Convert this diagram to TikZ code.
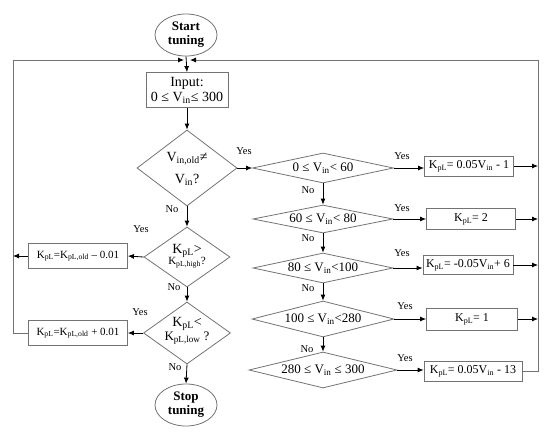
\documentclass[tikz,border=0pt]{standalone}
\usepackage{fontspec}
\setmainfont{Liberation Serif}
\usetikzlibrary{shapes.geometric,arrows.meta}
\newcommand\sbs[1]{\textsubscript{#1}}
\begin{document}
\begin{tikzpicture}[x=1pt,y=-1pt,
  shp/.style={draw=black!55, line width=0.8pt},
  dia/.style={shp, diamond, inner sep=0pt},
  box/.style={shp, rectangle, inner sep=1pt, align=center},
  ell/.style={shp, ellipse, inner sep=0pt, align=center, minimum width=62pt, minimum height=42pt, font=\fontsize{13}{14}\selectfont\bfseries},
  arr/.style={draw=black, line width=0.8pt, -{Latex[length=6pt,width=5pt]}},
  loopl/.style={draw=black!55, line width=0.9pt, -{Latex[length=6pt,width=5pt,color=black]}},
  lbl/.style={font=\fontsize{10.5}{12}\selectfont, inner sep=0pt},
  txt/.style={inner sep=0pt, align=center},
  big/.style={font=\fontsize{14}{15}\selectfont},
  mid/.style={font=\fontsize{13}{14}\selectfont},
  sml/.style={font=\fontsize{12}{13}\selectfont},
]
\useasboundingbox (0,0) rectangle (550,432);
% left column
\node[ell] (start) at (186,35) {Start\\tuning};
\node[box, big, minimum width=82pt, minimum height=35pt] (input) at (187,90) {Input:\\0 ≤ V\sbs{in}≤ 300};
\node[dia, minimum width=100pt, minimum height=76pt] (d1) at (187,168) {};
\node[txt, big] (t1) at (187,169) {V\sbs{in,old}≠\\[7pt]V\sbs{in}?};
\node[dia, minimum width=86pt, minimum height=60pt] (d3) at (187,257) {};
\node[txt] (t3) at (187,256) {{\fontsize{14}{14}\selectfont K\sbs{pL}>}\\[-1pt]{\fontsize{11}{12}\selectfont K\sbs{pL,high}?}};
\node[dia, minimum width=87pt, minimum height=62pt] (d4) at (187,333) {};
\node[txt] (t4) at (187,331) {{\fontsize{14}{14}\selectfont K\sbs{pL}<}\\[0pt]{\fontsize{13}{13}\selectfont K\sbs{pL,low} ?}};
\node[ell] (stop) at (186,405) {Stop\\tuning};
\node[box, font=\fontsize{11}{12}\selectfont, minimum width=99pt, minimum height=25pt] (bm) at (78,256) {K\sbs{pL}=K\sbs{pL,old} – 0.01};
\node[box, font=\fontsize{11}{12}\selectfont, minimum width=99pt, minimum height=25pt] (bp) at (78,333) {K\sbs{pL}=K\sbs{pL,old} + 0.01};
% right column diamonds
\node[dia, minimum width=141pt, minimum height=30pt] (d5) at (323,168) {};
\node[txt, mid] (t5) at (323,168) {0 ≤ V\sbs{in}< 60};
\node[dia, minimum width=140pt, minimum height=28pt] (d6) at (323,219) {};
\node[txt, mid] (t6) at (323,219) {60 ≤ V\sbs{in}< 80};
\node[dia, minimum width=140pt, minimum height=30pt] (d7) at (323,268) {};
\node[txt, mid] (t7) at (323,268) {80 ≤ V\sbs{in}<100};
\node[dia, minimum width=142pt, minimum height=36pt] (d8) at (323,319) {};
\node[txt, mid] (t8) at (323,319) {100 ≤ V\sbs{in}<280};
\node[dia, minimum width=148pt, minimum height=36pt] (d9) at (323,370) {};
\node[txt, mid] (t9) at (323,370) {280 ≤ V\sbs{in} ≤ 300};
% right boxes
\node[box, sml, minimum width=89pt, minimum height=20pt] (b1) at (469,166) {K\sbs{pL}= 0.05V\sbs{in} - 1};
\node[box, sml, minimum width=89pt, minimum height=21pt] (b2) at (471,219) {K\sbs{pL}= 2};
\node[box, sml, minimum width=90pt, minimum height=19pt] (b3) at (468,265) {K\sbs{pL}= -0.05V\sbs{in}+ 6};
\node[box, sml, minimum width=91pt, minimum height=22pt] (b4) at (472,319) {K\sbs{pL}= 1};
\node[box, sml, minimum width=98pt, minimum height=20pt] (b5) at (473,371) {K\sbs{pL}= 0.05V\sbs{in} - 13};
% loop coordinates
\coordinate (lft) at (13,60);
\coordinate (rgt) at (538,60);
\coordinate (jl) at (184,60);
\coordinate (jr) at (190,60);
% connectors
\draw[arr] (start.south) -- (input.north);
\draw[arr] (input.south) -- (d1.north);
\draw[arr] (d1.east) -- (d5.west);
\draw[arr] (d1.south) -- (d3.north);
\draw[arr] (d3.south) -- (d4.north);
\draw[arr] (d4.south) -- (stop.north);
\draw[arr] (d3.west) -- (bm.east);
\draw[arr] (d4.west) -- (bp.east);
\draw[arr] (bm.west) -- (bm.west -| lft);
\draw[loopl] (bp.west) -| (lft) -- (jl);
\draw[loopl] (b5.east) -| (rgt) -- (jr);
\draw[arr] (d5.south) -- (d6.north);
\draw[arr] (d6.south) -- (d7.north);
\draw[arr] (d7.south) -- (d8.north);
\draw[arr] (d8.south) -- (d9.north);
\draw[arr] (d5.east) -- (b1.west |- d5.east);
\draw[arr] (d6.east) -- (b2.west |- d6.east);
\draw[arr] (d7.east) -- (b3.west |- d7.east);
\draw[arr] (d8.east) -- (b4.west |- d8.east);
\draw[arr] (d9.east) -- (b5.west |- d9.east);
\draw[arr] (b1.east) -- (b1.east -| rgt);
\draw[arr] (b2.east) -- (b2.east -| rgt);
\draw[arr] (b3.east) -- (b3.east -| rgt);
\draw[arr] (b4.east) -- (b4.east -| rgt);
% labels
\node[lbl] (y1) at (244,151) {Yes};
\node[lbl] (n1) at (172,209) {No};
\node[lbl] (y3) at (141,229) {Yes};
\node[lbl] (n3) at (174,287) {No};
\node[lbl] (y4) at (140,312) {Yes};
\node[lbl] (n4) at (175,367) {No};
\node[lbl] (y5) at (402,156) {Yes};
\node[lbl] (n5) at (308,190) {No};
\node[lbl] (y6) at (402,208) {Yes};
\node[lbl] (n6) at (308,238) {No};
\node[lbl] (y7) at (402,253) {Yes};
\node[lbl] (n7) at (308,288) {No};
\node[lbl] (y8) at (405,306) {Yes};
\node[lbl] (n8) at (307,349) {No};
\node[lbl] (y9) at (405,358) {Yes};
\end{tikzpicture}
\end{document}
